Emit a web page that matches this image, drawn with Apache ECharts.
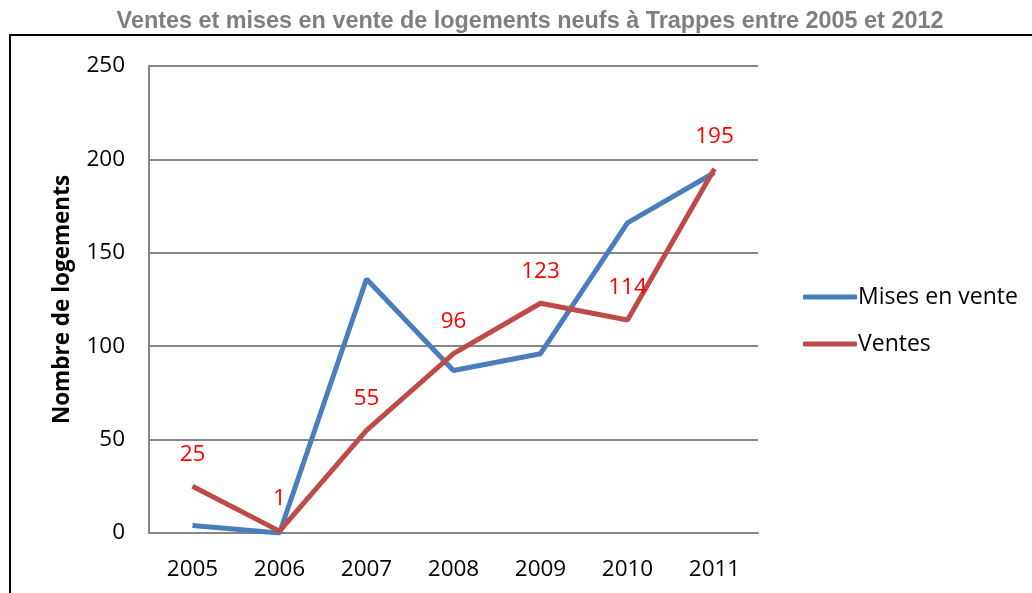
<!DOCTYPE html>
<html>
<head>
<meta charset="utf-8">
<script src="https://cdn.jsdelivr.net/npm/echarts@6/dist/echarts.min.js"></script>
<style>
  html, body { margin: 0; padding: 0; background: #fff; }
  #chart { width: 1032px; height: 593px; }
</style>
</head>
<body>
<div id="chart"></div>
<script>
// Années et valeurs (nombre de logements)
const years = ['2005', '2006', '2007', '2008', '2009', '2010', '2011'];
const misesEnVente = [4, 0, 136, 87, 96, 166, 193];
const ventes = [25, 1, 55, 96, 123, 114, 195];
const yTicks = [0, 50, 100, 150, 200, 250];

const blue = '#4A7EBB';
const red = '#BE4B48';
const font = 'Open Sans';

const chart = echarts.init(document.getElementById('chart'));
chart.setOption({
  animation: false,
  graphic: [
    {
      type: 'text',
      x: 530,
      y: 22,
      style: {
        text: 'Ventes et mises en vente de logements neufs à Trappes entre 2005 et 2012',
        font: 'bold 23.4px "Liberation Sans"',
        fill: '#7f7f7f',
        align: 'center',
        verticalAlign: 'middle'
      },
      silent: true
    },
    {
      type: 'rect',
      shape: { x: 10, y: 35, width: 1100, height: 700 },
      style: { fill: 'none', stroke: '#000', lineWidth: 2 },
      silent: true
    }
  ],
  legend: {
    orient: 'vertical',
    left: 798,
    top: 280,
    itemGap: 23,
    itemWidth: 54,
    itemHeight: 5,
    icon: 'roundRect',
    textStyle: { fontFamily: font, fontSize: 23, lineHeight: 24, color: '#000', padding: [0, 0, 0, -4] },
    data: ['Mises en vente', 'Ventes']
  },
  grid: { left: 149, right: 274, top: 66, bottom: 60 },
  xAxis: {
    type: 'category',
    data: years,
    boundaryGap: true,
    axisLine: { lineStyle: { color: '#868686', width: 2 } },
    axisTick: { show: false },
    axisLabel: { fontFamily: font, fontSize: 22.5, color: '#000', margin: 25 }
  },
  yAxis: {
    type: 'value',
    min: yTicks[0],
    max: yTicks[yTicks.length - 1],
    interval: 50,
    name: 'Nombre de logements',
    nameLocation: 'middle',
    nameGap: 75,
    nameTextStyle: { fontFamily: font, fontWeight: 'bold', fontSize: 22.5, color: '#000' },
    axisLine: { show: true, lineStyle: { color: '#868686', width: 2 } },
    axisTick: { show: false },
    splitLine: { lineStyle: { color: '#868686', width: 2 } },
    axisLabel: { fontFamily: font, fontSize: 22.5, color: '#000', margin: 24 }
  },
  series: [
    {
      name: 'Mises en vente',
      type: 'line',
      data: misesEnVente,
      symbol: 'none',
      color: blue,
      lineStyle: { color: blue, width: 5 }
    },
    {
      name: 'Ventes',
      type: 'line',
      data: ventes,
      symbol: 'circle',
      symbolSize: 0.1,
      showSymbol: true,
      color: red,
      lineStyle: { color: red, width: 5 },
      z: 3,
      label: {
        show: true,
        position: 'top',
        distance: 20,
        fontFamily: font,
        fontSize: 22.5,
        lineHeight: 24,
        color: '#ff0000'
      },
      labelLayout: { hideOverlap: false }
    }
  ]
});
</script>
</body>
</html>
